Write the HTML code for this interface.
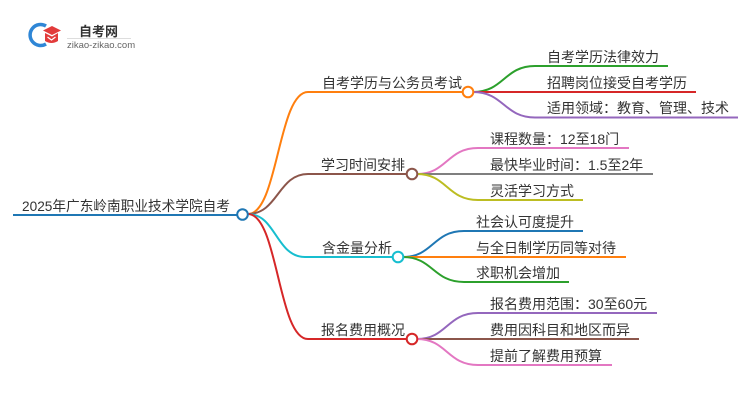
<!DOCTYPE html>
<html><head><meta charset="utf-8">
<style>
html,body{margin:0;padding:0;background:#fff;}
svg{display:block;}
text{font-family:"Liberation Sans","Noto Sans CJK SC",sans-serif;font-size:14px;fill:#333;}
</style></head>
<body>
<svg width="750" height="410" viewBox="0 0 750 410" xmlns="http://www.w3.org/2000/svg">
<!-- logo -->
<path d="M46,26 A10.5,10.5 0 1 0 46,44" fill="none" stroke="#2f86d6" stroke-width="3.5"/>
<polygon points="52,26 61,30.5 52,35 43,30.5" fill="#e23b3b"/>
<path d="M45,33 L45,41 Q51.5,45 58,41 L58,33 L52,36.5 Z" fill="#e23b3b"/>
<path d="M47.5,37 L51.5,40 L55.5,37" fill="none" stroke="#fff" stroke-width="1.2"/>
<text x="79" y="36" style="font-size:13px;font-weight:bold;fill:#333">自考网</text>
<line x1="67" y1="38.5" x2="131" y2="38.5" stroke="#ddd" stroke-width="1"/>
<text x="67" y="48" style="font-size:9.5px;fill:#666">zikao-zikao.com</text>

<g fill="none" stroke-width="2">
<!-- root -->
<line x1="13" y1="215" x2="237" y2="215" stroke="#1f77b4"/>
<!-- branches -->
<path d="M248,214 C278,214 278,92 308,92 L463,92" stroke="#ff7f0e"/>
<path d="M248,214 C278,214 278,174 308,174 L407,174" stroke="#8c564b"/>
<path d="M248,214 C276,214 276,257 305,257 L393,257" stroke="#17becf"/>
<path d="M248,214 C278,214 278,339 308,339 L407,339" stroke="#d62728"/>
<!-- B1 leaves -->
<path d="M473,92 C504,92 504,66 535,66 L668,66" stroke="#2ca02c"/>
<path d="M473,92 L696,92" stroke="#d62728"/>
<path d="M473,92 C504,92 504,117.5 535,117.5 L738,117.5" stroke="#9467bd"/>
<!-- B2 leaves -->
<path d="M417,174 C447,174 447,148 478,148 L629,148" stroke="#e377c2"/>
<path d="M417,174 L653,174" stroke="#7f7f7f"/>
<path d="M417,174 C447,174 447,200 478,200 L583,200" stroke="#bcbd22"/>
<!-- B3 leaves -->
<path d="M403,257 C433,257 433,231 464,231 L583,231" stroke="#1f77b4"/>
<path d="M403,257 L626,257" stroke="#ff7f0e"/>
<path d="M403,257 C433,257 433,282 464,282 L569,282" stroke="#2ca02c"/>
<!-- B4 leaves -->
<path d="M417,339 C447,339 447,313 478,313 L657,313" stroke="#9467bd"/>
<path d="M417,339 L639,339" stroke="#8c564b"/>
<path d="M417,339 C447,339 447,365 478,365 L612,365" stroke="#e377c2"/>
</g>
<!-- circles -->
<g fill="#fff" stroke-width="2">
<circle cx="242.5" cy="214.5" r="5.3" stroke="#1f77b4"/>
<circle cx="468" cy="92" r="5.3" stroke="#ff7f0e"/>
<circle cx="412" cy="174" r="5.3" stroke="#8c564b"/>
<circle cx="398" cy="257" r="5.3" stroke="#17becf"/>
<circle cx="412" cy="339" r="5.3" stroke="#d62728"/>
</g>
<!-- texts -->
<text x="22" y="211" textLength="208" lengthAdjust="spacingAndGlyphs">2025年广东岭南职业技术学院自考</text>
<text x="322" y="88">自考学历与公务员考试</text>
<text x="321" y="170">学习时间安排</text>
<text x="322" y="253">含金量分析</text>
<text x="321" y="335">报名费用概况</text>

<text x="547" y="62">自考学历法律效力</text>
<text x="547" y="88">招聘岗位接受自考学历</text>
<text x="547" y="113">适用领域：教育、管理、技术</text>

<text x="490" y="144">课程数量：12至18门</text>
<text x="490" y="170">最快毕业时间：1.5至2年</text>
<text x="490" y="196">灵活学习方式</text>

<text x="476" y="227">社会认可度提升</text>
<text x="476" y="253">与全日制学历同等对待</text>
<text x="476" y="278">求职机会增加</text>

<text x="490" y="309">报名费用范围：30至60元</text>
<text x="490" y="335">费用因科目和地区而异</text>
<text x="490" y="361">提前了解费用预算</text>
</svg>
</body></html>
